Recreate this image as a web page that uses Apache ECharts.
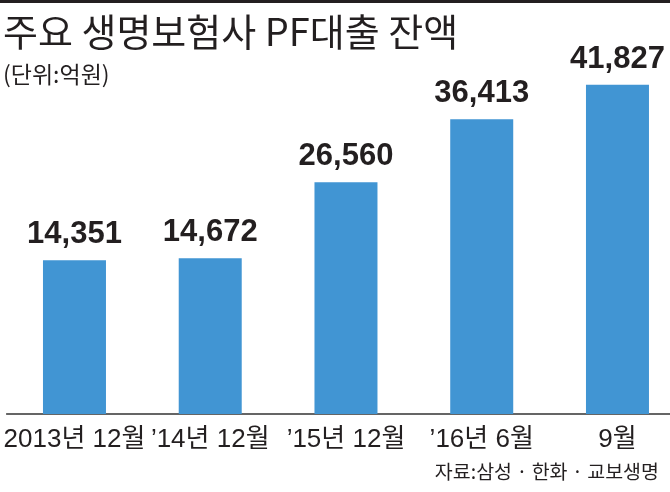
<!DOCTYPE html>
<html>
<head>
<meta charset="utf-8">
<script src="https://cdn.jsdelivr.net/npm/echarts@6/dist/echarts.min.js"></script>
<style>
html,body{margin:0;padding:0;background:#fff;}
#c{width:670px;height:492px;}
</style>
</head>
<body>
<div id="c"></div>
<script>
const categories = ['2013년 12월', '’14년 12월', '’15년 12월', '’16년 6월', '9월'];
const values = [14351, 14672, 26560, 36413, 41827];
const titleText = '주요 생명보험사 PF대출 잔액';
const unitText = '(단위:억원)';
const sourceText = '자료:삼성 · 한화 · 교보생명';

// the infographic's bars rise from a raised visual base (not proportional to zero)
const baseOffset = 9700;
const baseArr = values.map(() => baseOffset);

const LAT = "'Liberation Sans','Noto Sans CJK KR',sans-serif";
const KR = "'Noto Sans CJK KR','Liberation Sans',sans-serif";
const BAR = '#4195d3';

const chart = echarts.init(document.getElementById('c'), null, {renderer: 'canvas'});
chart.setOption({
  backgroundColor: '#ffffff',
  animation: false,
  title: [
    {
      text: titleText,
      subtext: unitText,
      left: -2,
      top: 8,
      itemGap: 12,
      textStyle: {fontFamily: KR, fontSize: 38, fontWeight: 'normal', color: '#231f20'},
      subtextStyle: {fontFamily: KR, fontSize: 23, color: '#231f20'}
    },
    {
      text: sourceText,
      right: 6,
      bottom: 6,
      textStyle: {fontFamily: KR, fontSize: 19.5, fontWeight: 'normal', color: '#231f20'}
    }
  ],
  graphic: [
    {type: 'rect', left: 0, top: 0, shape: {width: 670, height: 3}, style: {fill: '#231f20'}}
  ],
  grid: {left: 6.6, width: 678.75, top: 60, bottom: 78, containLabel: false, outerBoundsMode: 'none'},
  xAxis: {
    type: 'category',
    data: categories,
    axisLine: {lineStyle: {color: '#333333', width: 1.5}},
    axisTick: {show: false},
    axisLabel: {margin: 13, fontFamily: LAT, fontSize: 26, color: '#231f20', interval: 0}
  },
  yAxis: {
    type: 'value',
    min: 0,
    max: 55383.87,
    show: false,
    splitLine: {show: false}
  },
  series: [
    {
      type: 'bar',
      stack: 's',
      data: baseArr,
      barWidth: 63,
      itemStyle: {color: BAR},
      silent: true
    },
    {
      type: 'bar',
      stack: 's',
      data: values,
      barWidth: 63,
      itemStyle: {color: BAR},
      label: {
        show: true,
        position: 'top',
        distance: 10,
        fontFamily: LAT,
        fontSize: 31,
        fontWeight: 'bold',
        color: '#231f20',
        formatter: p => p.value.toLocaleString('en-US')
      }
    }
  ]
});
</script>
</body>
</html>
